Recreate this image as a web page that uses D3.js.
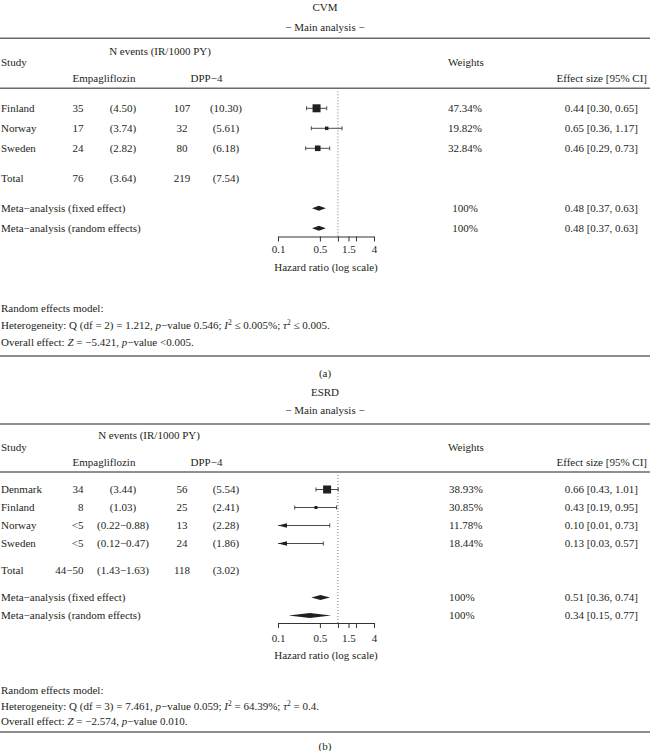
<!DOCTYPE html>
<html><head><meta charset="utf-8">
<script src="https://cdn.jsdelivr.net/npm/d3@7"></script>
<style>
body{margin:0;background:#fff}
svg text{font-family:"Liberation Serif","Times New Roman",serif;font-size:11px;fill:#231f20}
</style>
</head><body>
<svg id="chart" width="650" height="751"></svg>
<script>
// ---------------- DATA ----------------
const axisDomain = [0.1, 4];
const tickValues = [0.1, 0.5, 1, 1.5, 2, 4];
const tickLabels = ["0.1", "0.5", "", "1.5", "", "4"];
const axisTitle = "Hazard ratio (log scale)";
const headerGroup = "N events (IR/1000 PY)";
const headerArms = ["Empagliflozin", "DPP−4"];

// Panel (a) CVM
const cvmStudies = ["Finland", "Norway", "Sweden"];
const cvmEmpaN = ["35", "17", "24"];
const cvmEmpaIR = ["(4.50)", "(3.74)", "(2.82)"];
const cvmDppN = ["107", "32", "80"];
const cvmDppIR = ["(10.30)", "(5.61)", "(6.18)"];
const cvmHR = [0.44, 0.65, 0.46];
const cvmLower = [0.30, 0.36, 0.29];
const cvmUpper = [0.65, 1.17, 0.73];
const cvmWeights = ["47.34%", "19.82%", "32.84%"];
const cvmTotal = ["Total", "76", "(3.64)", "219", "(7.54)"];
const cvmMetaLabels = ["Meta−analysis (fixed effect)", "Meta−analysis (random effects)"];
const cvmMetaHR = [0.48, 0.48];
const cvmMetaLower = [0.37, 0.37];
const cvmMetaUpper = [0.63, 0.63];
const cvmMetaWeights = ["100%", "100%"];
const cvmFooter = [
  [{t: "Random effects model:"}],
  [{t: "Heterogeneity: Q (df = 2) = 1.212, "}, {t: "p", i: 1}, {t: "−value 0.546; "}, {t: "I", i: 1}, {t: "2", sup: 1}, {t: " ≤ 0.005%; "}, {t: "τ", i: 1}, {t: "2", sup: 1}, {t: " ≤ 0.005."}],
  [{t: "Overall effect: "}, {t: "Z", i: 1}, {t: " = −5.421, "}, {t: "p", i: 1}, {t: "−value <0.005."}]
];

// Panel (b) ESRD
const esrdStudies = ["Denmark", "Finland", "Norway", "Sweden"];
const esrdEmpaN = ["34", "8", "<5", "<5"];
const esrdEmpaIR = ["(3.44)", "(1.03)", "(0.22−0.88)", "(0.12−0.47)"];
const esrdDppN = ["56", "25", "13", "24"];
const esrdDppIR = ["(5.54)", "(2.41)", "(2.28)", "(1.86)"];
const esrdHR = [0.66, 0.43, 0.10, 0.13];
const esrdLower = [0.43, 0.19, 0.01, 0.03];
const esrdUpper = [1.01, 0.95, 0.73, 0.57];
const esrdWeights = ["38.93%", "30.85%", "11.78%", "18.44%"];
const esrdTotal = ["Total", "44−50", "(1.43−1.63)", "118", "(3.02)"];
const esrdMetaLabels = ["Meta−analysis (fixed effect)", "Meta−analysis (random effects)"];
const esrdMetaHR = [0.51, 0.34];
const esrdMetaLower = [0.36, 0.15];
const esrdMetaUpper = [0.74, 0.77];
const esrdMetaWeights = ["100%", "100%"];
const esrdFooter = [
  [{t: "Random effects model:"}],
  [{t: "Heterogeneity: Q (df = 3) = 7.461, "}, {t: "p", i: 1}, {t: "−value 0.059; "}, {t: "I", i: 1}, {t: "2", sup: 1}, {t: " = 64.39%; "}, {t: "τ", i: 1}, {t: "2", sup: 1}, {t: " = 0.4."}],
  [{t: "Overall effect: "}, {t: "Z", i: 1}, {t: " = −2.574, "}, {t: "p", i: 1}, {t: "−value 0.010."}]
];

// ---------------- DRAWING ----------------
const svg = d3.select("#chart");
const W = 650;
const ink = "#231f20";
const ruleColor = "#6a6a6a";
const x = d3.scaleLog().domain(axisDomain).range([278, 374]);
const f2 = d3.format(".2f");

function txt(g, xx, yy, s, anchor) {
  return g.append("text").attr("x", xx).attr("y", yy).attr("dy", "0.35em")
    .attr("text-anchor", anchor || "start").text(s);
}
function rich(g, xx, yy, segs) {
  const t = g.append("text").attr("x", xx).attr("y", yy).attr("dy", "0.35em");
  segs.forEach((s, k) => {
    const sp = t.append("tspan").text(s.t);
    if (s.i) sp.attr("font-style", "italic");
    if (s.sup) sp.attr("dy", -4).attr("font-size", 7.5);
    else if (k > 0 && segs[k - 1].sup) sp.attr("dy", 4);
  });
}
function rule(g, yy) {
  g.append("line").attr("x1", 0).attr("x2", W).attr("y1", yy).attr("y2", yy)
    .attr("stroke", ruleColor).attr("stroke-width", 1.6);
}

function drawPanel(p) {
  const g = svg.append("g");
  const y = d3.scaleLinear().domain([0, 1]).range([p.row0, p.row0 + p.step]);

  txt(g, 325, p.titleY, p.title, "middle");
  txt(g, 325, p.subY, "− Main analysis −", "middle");
  rule(g, p.rule1);
  txt(g, p.groupX, p.groupY, headerGroup, "middle");
  txt(g, 1, p.studyY, "Study");
  txt(g, 448, p.studyY, "Weights");
  txt(g, 72.5, p.armY, headerArms[0]);
  txt(g, 190.5, p.armY, headerArms[1]);
  txt(g, 647, p.armY, "Effect size [95% CI]", "end");
  rule(g, p.rule2);

  // reference line at HR = 1
  g.append("line").attr("x1", x(1)).attr("x2", x(1))
    .attr("y1", p.rule2 + 3).attr("y2", p.axisY)
    .attr("stroke", "#777").attr("stroke-width", 1).attr("stroke-dasharray", "1,2");

  // box sizes from inverse-variance weights derived from CI
  const se = p.hr.map((d, i) => (Math.log(p.upper[i]) - Math.log(p.lower[i])) / (2 * 1.96));
  const iv = se.map(s => 1 / (s * s));
  const size = d3.scaleLinear().domain([0, d3.max(iv)]).range([0, 8]);

  const [d0, d1] = axisDomain;
  p.studies.forEach((s, i) => {
    const yy = y(i);
    txt(g, 1, yy, s);
    txt(g, 83.5, yy, p.empaN[i], "end");
    txt(g, 123, yy, p.empaIR[i], "middle");
    txt(g, 182, yy, p.dppN[i], "middle");
    txt(g, 226, yy, p.dppIR[i], "middle");
    if (p.weightAnchor === "middle") txt(g, 465, yy, p.weights[i], "middle");
    else txt(g, 449, yy, p.weights[i]);
    txt(g, 638, yy, `${f2(p.hr[i])} [${f2(p.lower[i])}, ${f2(p.upper[i])}]`, "end");

    const lo = Math.max(p.lower[i], d0), hi = Math.min(p.upper[i], d1);
    g.append("line").attr("x1", x(lo)).attr("x2", x(hi)).attr("y1", yy).attr("y2", yy)
      .attr("stroke", "#4a4a4a").attr("stroke-width", 1);
    if (p.lower[i] >= d0) {
      g.append("line").attr("x1", x(lo)).attr("x2", x(lo)).attr("y1", yy - 2).attr("y2", yy + 2)
        .attr("stroke", "#4a4a4a").attr("stroke-width", 1);
    } else {
      g.append("path").attr("d", `M${x(d0)},${yy}L${x(d0) + 9},${yy - 2.3}L${x(d0) + 9},${yy + 2.3}Z`)
        .attr("fill", ink);
    }
    if (p.upper[i] <= d1) {
      g.append("line").attr("x1", x(hi)).attr("x2", x(hi)).attr("y1", yy - 2).attr("y2", yy + 2)
        .attr("stroke", "#4a4a4a").attr("stroke-width", 1);
    }
    if (p.hr[i] > d0 && p.hr[i] <= d1) {
      const sd = Math.max(3, size(iv[i]));
      g.append("rect").attr("x", x(p.hr[i]) - sd / 2).attr("y", yy - sd / 2)
        .attr("width", sd).attr("height", sd).attr("fill", ink);
    }
  });

  // total row
  const ty = y(p.totalIdx);
  txt(g, 1, ty, p.total[0]);
  txt(g, 83.5, ty, p.total[1], "end");
  txt(g, 123, ty, p.total[2], "middle");
  txt(g, 182, ty, p.total[3], "middle");
  txt(g, 226, ty, p.total[4], "middle");

  // meta rows
  p.metaLabels.forEach((m, i) => {
    const yy = y(p.metaIdx[i]);
    txt(g, 1, yy, m);
    if (p.weightAnchor === "middle") txt(g, 465, yy, p.metaWeights[i], "middle");
    else txt(g, 449, yy, p.metaWeights[i]);
    txt(g, 638, yy, `${f2(p.metaHR[i])} [${f2(p.metaLower[i])}, ${f2(p.metaUpper[i])}]`, "end");
    const h = 2.5;
    g.append("path").attr("d",
      `M${x(p.metaLower[i])},${yy}L${x(p.metaHR[i])},${yy - h}L${x(p.metaUpper[i])},${yy}L${x(p.metaHR[i])},${yy + h}Z`)
      .attr("fill", ink);
  });

  // axis
  const ax = g.append("g").attr("transform", `translate(0,${p.axisY})`)
    .call(d3.axisBottom(x).tickValues(tickValues).tickFormat((d, i) => tickLabels[i])
      .tickSize(5).tickSizeOuter(0).tickPadding(p.tickPad));
  ax.attr("font-family", null).attr("font-size", null).style("color", ink);
  ax.selectAll("line,path").attr("stroke", "#333").attr("stroke-width", 1);
  txt(g, x(Math.sqrt(axisDomain[0] * axisDomain[1])), p.axisTitleY, axisTitle, "middle");

  // footer
  p.footer.forEach((segs, i) => rich(g, 1, p.footY[i], segs));
  rule(g, p.rule3);
  txt(g, 325, p.capY, p.cap, "middle");
}

drawPanel({
  title: "CVM", titleY: 7, subY: 27, rule1: 38.3, groupX: 160, groupY: 51.5, studyY: 62.5, armY: 78, rule2: 88.3,
  row0: 108.3, step: 20, totalIdx: 3.5, metaIdx: [5, 6], axisY: 236.5, tickPad: 4, axisTitleY: 267,
  footY: [308, 325, 342], rule3: 356, capY: 373, cap: "(a)", weightAnchor: "middle",
  studies: cvmStudies, empaN: cvmEmpaN, empaIR: cvmEmpaIR, dppN: cvmDppN, dppIR: cvmDppIR,
  hr: cvmHR, lower: cvmLower, upper: cvmUpper, weights: cvmWeights, total: cvmTotal,
  metaLabels: cvmMetaLabels, metaHR: cvmMetaHR, metaLower: cvmMetaLower, metaUpper: cvmMetaUpper,
  metaWeights: cvmMetaWeights, footer: cvmFooter
});
drawPanel({
  title: "ESRD", titleY: 392, subY: 410, rule1: 424, groupX: 149, groupY: 435, studyY: 447, armY: 462, rule2: 472,
  row0: 489.5, step: 18, totalIdx: 4.5, metaIdx: [6, 7], axisY: 623, tickPad: 6, axisTitleY: 655.5,
  footY: [690, 706, 721], rule3: 732, capY: 746, cap: "(b)", weightAnchor: "start",
  studies: esrdStudies, empaN: esrdEmpaN, empaIR: esrdEmpaIR, dppN: esrdDppN, dppIR: esrdDppIR,
  hr: esrdHR, lower: esrdLower, upper: esrdUpper, weights: esrdWeights, total: esrdTotal,
  metaLabels: esrdMetaLabels, metaHR: esrdMetaHR, metaLower: esrdMetaLower, metaUpper: esrdMetaUpper,
  metaWeights: esrdMetaWeights, footer: esrdFooter
});
</script>
</body></html>
